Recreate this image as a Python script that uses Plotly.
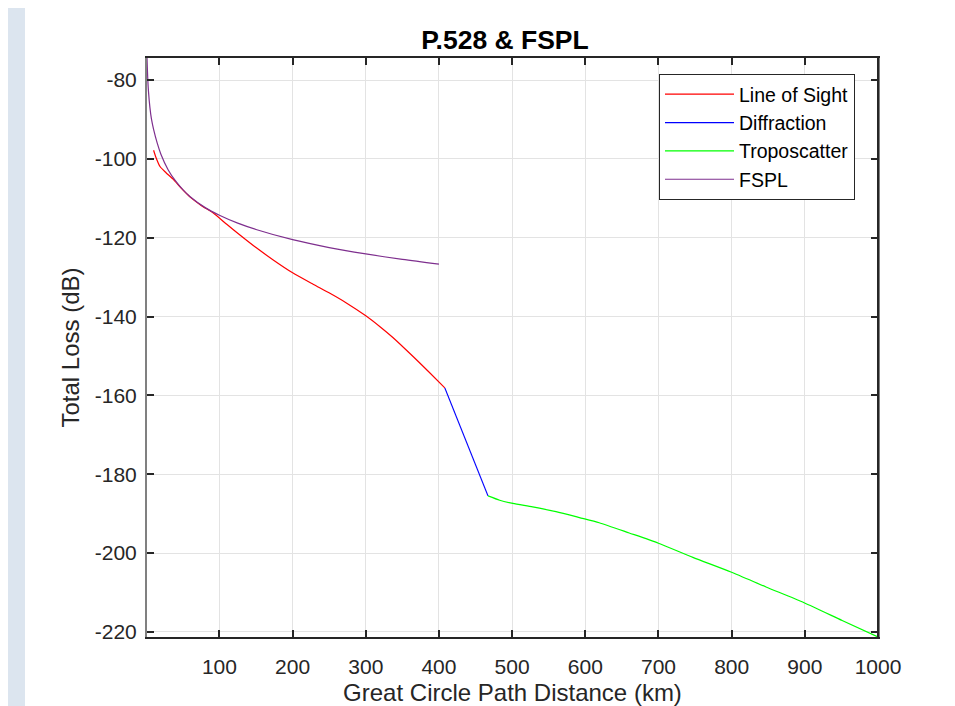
import plotly.graph_objects as go

# ---- data ----
los_d = [10, 13, 19, 27, 37, 48, 60, 75, 92, 110, 128, 150, 174, 200, 228, 251, 274, 300, 319, 337, 365, 387, 408]
los_db = [-97.8, -99.5, -102.0, -103.5, -105.2, -107.5, -109.7, -111.8, -113.8, -116.6, -119.3, -122.5,
          -125.7, -128.9, -131.8, -134.1, -136.6, -139.8, -142.5, -145.3, -150.2, -154.2, -158.1]

dif_d = [408, 437, 467]
dif_db = [-158.1, -171.8, -185.5]

tro_d = [467, 483, 501, 528, 560, 592, 619, 660, 700, 747, 799, 847, 899, 951, 1000]
tro_db = [-185.5, -186.6, -187.4, -188.3, -189.5, -191.0, -192.3, -194.9, -197.5, -201.1,
          -204.8, -208.6, -212.6, -217.1, -221.3]

fspl_d = [1, 2, 3, 5, 7, 10, 15, 20, 30, 40, 50, 60, 80, 100, 125, 150, 200, 250, 300, 350, 400]
fspl_db = [-74.3, -79.5, -82.8, -87.0, -89.8, -92.5, -96.0, -98.8, -102.8, -105.6, -107.8, -109.6,
           -112.3, -114.3, -116.3, -117.9, -120.5, -122.5, -124.1, -125.5, -126.7]

x_ticks = [100, 200, 300, 400, 500, 600, 700, 800, 900, 1000]
y_ticks = [-80, -100, -120, -140, -160, -180, -200, -220]

FONT = "Liberation Sans, Arial, sans-serif"

fig = go.Figure()
fig.add_trace(go.Scatter(x=los_d, y=los_db, mode="lines", name="Line of Sight",
                         line=dict(color="#FF0000", width=1.2, shape="spline", smoothing=0.6),
                         legendgroup="a"))
fig.add_trace(go.Scatter(x=dif_d, y=dif_db, mode="lines", name="Diffraction",
                         line=dict(color="#0000FF", width=1.2), legendgroup="b"))
fig.add_trace(go.Scatter(x=tro_d, y=tro_db, mode="lines", name="Troposcatter",
                         line=dict(color="#00FF00", width=1.2, shape="spline", smoothing=0.6),
                         legendgroup="c"))
fig.add_trace(go.Scatter(x=fspl_d, y=fspl_db, mode="lines", name="FSPL",
                         line=dict(color="#7E2F8E", width=1.2, shape="spline", smoothing=0.8),
                         legendgroup="d"))

# figure is placed 8px into the page; page coordinates -> figure coordinates
OFF = 8
W, H = 955 - OFF, 706 - OFF
L, R, T, B = 147 - OFF, 878 - OFF, 58 - OFF, 637 - OFF
pw, ph = R - L, B - T

def px_x(p):  # page px -> paper x
    return (p - OFF - L) / pw

def px_y(p):  # page px -> paper y
    return (B - (p - OFF)) / ph

shapes = []
# light textured strip on the left of the white panel
shapes.append(dict(type="rect", xref="paper", yref="paper", layer="below",
                   x0=px_x(0), x1=px_x(25), y0=px_y(720), y1=px_y(0),
                   fillcolor="#dce5ef", line=dict(width=0)))
# right spine in black (left spine is greyish)
shapes.append(dict(type="line", xref="paper", yref="paper", layer="above",
                   x0=1, x1=1, y0=0, y1=1, line=dict(color="#262626", width=2)))

fig.update_layout(
    width=W, height=H, autosize=False,
    margin=dict(l=L, r=W - R, t=T, b=H - B, autoexpand=False),
    paper_bgcolor="white", plot_bgcolor="white",
    font=dict(family=FONT, size=21, color="#262626"),
    title=dict(text="<b>P.528 &amp; FSPL</b>", x=px_x(505), xref="paper", xanchor="center",
               y=1 - (40 - OFF) / H, yanchor="middle", automargin=False,
               font=dict(size=26.5, color="#000000", family=FONT)),
    showlegend=True,
    legend=dict(x=px_x(659), y=px_y(74), xanchor="left", yanchor="top",
                bgcolor="white", bordercolor="#262626", borderwidth=1,
                font=dict(size=19.5, color="#000000", family=FONT),
                tracegroupgap=0, itemwidth=69),
    shapes=shapes,
)

fig.update_xaxes(range=[1, 1000], tickvals=x_ticks, ticktext=[str(v) for v in x_ticks],
                 automargin=False,
                 showgrid=True, gridcolor="#e3e3e3", gridwidth=1,
                 showline=True, linecolor="#262626", linewidth=2, mirror="ticks",
                 ticks="inside", ticklen=7, tickwidth=2, tickcolor="#262626",
                 zeroline=False, ticklabelstandoff=10,
                 tickfont=dict(size=21, color="#262626"),
                 title=dict(text="Great Circle Path Distance (km)", font=dict(size=24, color="#262626"),
                            standoff=8))
fig.update_yaxes(range=[-221.3, -74.4], tickvals=y_ticks, ticktext=[str(v) for v in y_ticks],
                 automargin=False,
                 showgrid=True, gridcolor="#e3e3e3", gridwidth=1,
                 showline=True, linecolor="#808080", linewidth=2, mirror="ticks",
                 ticks="inside", ticklen=7, tickwidth=2, tickcolor="#262626",
                 zeroline=False, ticklabelstandoff=4,
                 tickfont=dict(size=21, color="#262626"),
                 title=dict(text="Total Loss (dB)", font=dict(size=24, color="#262626"),
                            standoff=8))

fig.write_html("out.html")
